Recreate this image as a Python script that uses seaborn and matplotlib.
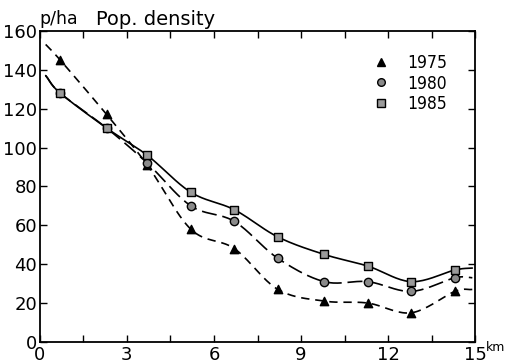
import numpy as np
import pandas as pd
import seaborn as sns
import matplotlib.pyplot as plt
from matplotlib.lines import Line2D

# distance from centre (km) of each survey ring
dist = [0.7, 2.3, 3.7, 5.2, 6.7, 8.2, 9.8, 11.3, 12.8, 14.3]

pop_1975 = [145, 117, 91, 58, 48, 27, 21, 20, 15, 26]
pop_1980 = [128, 110, 92, 70, 62, 43, 31, 31, 26, 33]
pop_1985 = [128, 110, 96, 77, 68, 54, 45, 39, 31, 37]

# where the drawn curves start and stop beyond the first / last point
line_start_x = 0.2
line_end_x = 14.9
start_1975, end_1975 = 153, 27
start_1980, end_1980 = 137, 33
start_1985, end_1985 = 137, 38

years = ['1975', '1980', '1985']


def smooth(xs, ys, n=20):
    # Catmull-Rom curve through the points, only for drawing the line
    xs = np.asarray(xs, float)
    ys = np.asarray(ys, float)
    px = np.concatenate([[2 * xs[0] - xs[1]], xs, [2 * xs[-1] - xs[-2]]])
    py = np.concatenate([[2 * ys[0] - ys[1]], ys, [2 * ys[-1] - ys[-2]]])
    ox, oy = [], []
    for i in range(1, len(px) - 2):
        t = np.linspace(0, 1, n, endpoint=False)
        for arr, out in ((px, ox), (py, oy)):
            p0, p1, p2, p3 = arr[i - 1], arr[i], arr[i + 1], arr[i + 2]
            out.extend(0.5 * ((2 * p1) + (-p0 + p2) * t
                              + (2 * p0 - 5 * p1 + 4 * p2 - p3) * t ** 2
                              + (-p0 + 3 * p1 - 3 * p2 + p3) * t ** 3))
    ox.append(xs[-1])
    oy.append(ys[-1])
    return np.array(ox), np.array(oy)


sns.set_style('ticks', {'text.color': 'black', 'xtick.color': 'black',
                        'ytick.color': 'black', 'axes.edgecolor': 'black'})
plt.rcParams['font.family'] = ['DejaVu Sans']

fig = plt.figure(figsize=(5.11, 3.63), dpi=100)
ax = fig.add_axes([0.078, 0.058, 0.852, 0.857])

series = [
    ('1975', pop_1975, start_1975, end_1975, (0, (5, 3.5)), '^', 'black', 6),
    ('1980', pop_1980, start_1980, end_1980, (0, (9, 3.5)), 'o', '#8a8a8a', 6),
    ('1985', pop_1985, start_1985, end_1985, '-', 's', '#9a9a9a', 6),
]

for year, vals, s, e, ls, mk, fc, ms in series:
    cx, cy = smooth([line_start_x] + dist + [line_end_x], [s] + vals + [e])
    curve = pd.DataFrame({'x': cx, 'y': cy})
    sns.lineplot(data=curve, x='x', y='y', ax=ax, color='black',
                 linewidth=1.2, linestyle=ls, sort=False, estimator=None)
    pts = pd.DataFrame({'x': dist, 'y': vals})
    sns.scatterplot(data=pts, x='x', y='y', ax=ax, marker=mk, s=ms ** 2,
                    color=fc, edgecolor='black', linewidth=1.0, zorder=5)

ax.set_xlim(0, 15)
ax.set_ylim(0, 160)
ax.set_xticks([0, 3, 6, 9, 12, 15])
ax.set_xticks(np.arange(0, 15.1, 1.5), minor=True)
ax.set_yticks(range(0, 161, 20))
ax.set_xticklabels(['0', '3', '6', '9', '12', '15'])
ax.tick_params(axis='both', which='both', direction='in', top=True,
               right=True, labelsize=13, width=1, length=5, pad=2,
               colors='black')
ax.tick_params(axis='x', which='major', pad=3)
ax.set_xlabel('')
ax.set_ylabel('')
for sp in ax.spines.values():
    sp.set_linewidth(1.3)
    sp.set_color('black')

ax.text(0.0, 1.01, 'p/ha', transform=ax.transAxes, fontsize=12.5,
        ha='left', va='bottom')
ax.text(0.128, 1.005, 'Pop. density', transform=ax.transAxes, fontsize=14,
        ha='left', va='bottom')
ax.text(1.024, -0.018, 'km', transform=ax.transAxes, fontsize=9,
        ha='left', va='center')

handles = [
    Line2D([], [], linestyle='none', marker='^', color='black', markersize=5.5),
    Line2D([], [], linestyle='none', marker='o', markerfacecolor='#8a8a8a',
           markeredgecolor='black', markersize=5.5),
    Line2D([], [], linestyle='none', marker='s', markerfacecolor='#9a9a9a',
           markeredgecolor='black', markersize=5.5),
]
ax.legend(handles, years, loc='upper right', frameon=False,
          prop={'family': 'DejaVu Sans', 'stretch': 'condensed', 'size': 12.5},
          handletextpad=0.5, labelspacing=0.12, borderaxespad=0.6,
          bbox_to_anchor=(0.975, 0.98))

fig.savefig('out.png', dpi=100)
